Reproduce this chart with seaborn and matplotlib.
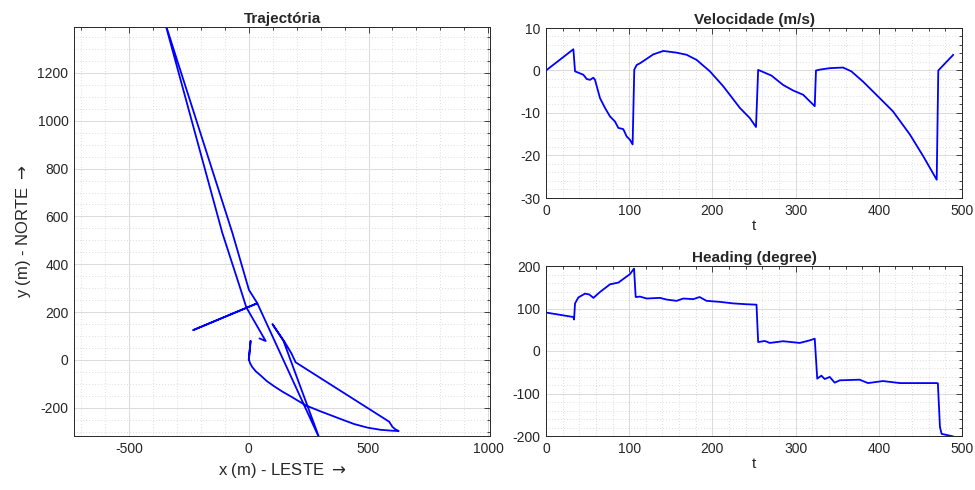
import matplotlib
matplotlib.use("Agg")
import matplotlib.pyplot as plt
from matplotlib.ticker import MultipleLocator
import seaborn as sns
import pandas as pd

# trajectory (metres), in the order it was travelled
traj_x = [0, 8, 1, 5, 15, 30, 50, 75, 106, 140, 180, 238, 300, 384, 440, 496, 550, 600, 626,
          612, 600, 586, 196, 178, 150, 99, 145, 296, 36, -231, 36, 1, -68, -352,
          -110, -33, -10, 71, 45]
traj_y = [0, 80, 3, -12, -30, -48, -65, -88, -110, -132, -155, -190, -215, -247, -268, -283, -292, -296, -297,
          -290, -280, -258, -10, 28, 75, 150, 80, -330, 237, 125, 237, 293, 531, 1420,
          531, 293, 220, 79, 90]

# velocity (m/s) vs t
vel_t = [0, 32.9, 34.9, 44.9, 48.9, 52.9, 56.9, 58.9, 64.9, 70.9, 76.9, 82.9, 86.9, 92.9, 96.9,
         100.9, 104.1, 106.1, 109, 113, 129, 141, 157, 169, 181, 197, 213, 233, 245, 252.4,
         255, 271, 285, 297, 309, 323, 324.5, 329, 341, 357, 367, 381, 397, 417, 437.5,
         453.5, 469.6, 471.5, 489.5]
vel_v = [0, 5.0, -0.2, -1.0, -2.0, -2.2, -1.7, -2.2, -6.5, -8.8, -10.8, -12.0, -13.5, -13.8, -15.5,
         -16.3, -17.4, 0.2, 1.3, 1.7, 3.8, 4.6, 4.2, 3.7, 2.5, -0.2, -3.7, -8.8, -11.2, -13.3,
         0.15, -1.2, -3.4, -4.7, -5.7, -8.4, 0, 0.2, 0.55, 0.7, -0.2, -2.6, -5.7, -9.6, -15.1,
         -20.2, -25.7, 0, 3.7]

# heading (degree) vs t
head_t = [0, 32.9, 33.7, 34.9, 38.9, 46.9, 52, 57, 65, 77, 87, 101, 105.8, 107.8, 113, 121, 137,
          145, 157, 165, 177, 184.6, 193, 209, 225, 241, 253, 255, 263, 269, 273, 285, 305,
          317, 323, 326, 331, 335, 341, 347, 353, 377, 387, 405, 425.5, 469.5, 471, 473.5,
          475.5, 489.5]
head_h = [90.5, 80, 74, 112, 126, 135, 133, 125, 139, 157, 161, 181, 194, 127, 128, 123.5, 125,
          121, 118, 123.5, 122, 127, 118, 115.6, 112, 110, 109, 21, 23.6, 19, 20, 23, 19,
          25, 29, -65, -58, -66, -61, -74.5, -69, -67.5, -75.5, -70.7, -75.5, -75.5, -76, -179,
          -195, -201]

sns.set_theme(style="white")
plt.rcParams['font.family'] = ['Liberation Sans', 'DejaVu Sans']
plt.rcParams['axes.unicode_minus'] = False

blue = '#0000ff'


def matlab_style(ax, xmaj, xmin, ymaj, ymin):
    ax.xaxis.set_major_locator(MultipleLocator(xmaj))
    ax.xaxis.set_minor_locator(MultipleLocator(xmin))
    ax.yaxis.set_major_locator(MultipleLocator(ymaj))
    ax.yaxis.set_minor_locator(MultipleLocator(ymin))
    ax.grid(which='major', color='#dadada', lw=0.7, ls='-')
    ax.grid(which='minor', color='#d2d2d2', lw=0.6, ls=(0, (1, 2.5)))
    ax.set_axisbelow(True)
    ax.tick_params(which='both', direction='in', top=True, right=True,
                   labelsize=10, colors='#262626', width=0.6)
    ax.tick_params(which='major', length=4, pad=4)
    ax.tick_params(which='minor', length=2)
    for s in ax.spines.values():
        s.set_color('#262626')
        s.set_linewidth(0.7)


fig = plt.figure(figsize=(9.75, 4.9), dpi=100)

ax1 = fig.add_axes([74 / 975, 54 / 490, 416 / 975, 409 / 490])
sns.lineplot(x=traj_x, y=traj_y, sort=False, estimator=None, color=blue, lw=1.3, ax=ax1)
ax1.set_xlim(-729, 1007)
ax1.set_ylim(-318, 1392)
matlab_style(ax1, 500, 100, 200, 50)
ax1.set_title('Trajectória', fontsize=11, fontweight='bold', pad=3)
ax1.set_xlabel('x (m) - LESTE $\\rightarrow$', fontsize=12, labelpad=4)
ax1.set_ylabel('y (m) - NORTE $\\rightarrow$', fontsize=12, labelpad=3)

ax2 = fig.add_axes([546 / 975, 292 / 490, 416 / 975, 170 / 490])
sns.lineplot(x=vel_t, y=vel_v, sort=False, estimator=None, color=blue, lw=1.3, ax=ax2)
ax2.set_xlim(0, 500)
ax2.set_ylim(-30, 10)
matlab_style(ax2, 100, 20, 10, 2)
ax2.set_title('Velocidade (m/s)', fontsize=11, fontweight='bold', pad=3)
ax2.set_xlabel('t', fontsize=11, labelpad=1)
ax2.set_ylabel('')

ax3 = fig.add_axes([546 / 975, 54 / 490, 416 / 975, 170 / 490])
sns.lineplot(x=head_t, y=head_h, sort=False, estimator=None, color=blue, lw=1.3, ax=ax3)
ax3.set_xlim(0, 500)
ax3.set_ylim(-200, 200)
matlab_style(ax3, 100, 20, 100, 20)
ax3.set_title('Heading (degree)', fontsize=11, fontweight='bold', pad=3)
ax3.set_xlabel('t', fontsize=11, labelpad=1)
ax3.set_ylabel('')

fig.savefig('out.png', dpi=100)
